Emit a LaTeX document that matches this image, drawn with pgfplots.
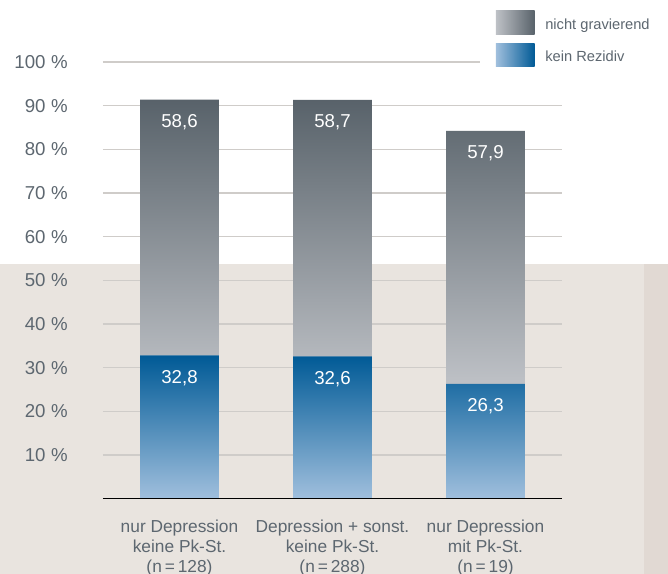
\documentclass[border=0pt]{standalone}
\usepackage{pgfplots}
\pgfplotsset{compat=1.18}
\usepackage{fontspec}
\setmainfont{Liberation Sans}

\definecolor{txt}{HTML}{5D6770}
\definecolor{gridc}{HTML}{CFCCC9}
\definecolor{baseline}{HTML}{5F666D}
\definecolor{greytop}{HTML}{58626A}
\definecolor{greybot}{HTML}{BEC1C6}
\definecolor{bluetop}{HTML}{005A96}
\definecolor{bluebot}{HTML}{A0BFDD}
\definecolor{beige}{HTML}{E9E4DF}
\definecolor{beigedark}{HTML}{E1D9D3}

\begin{document}
\begin{tikzpicture}
% page background: white top, beige lower band, darker strip at the right
\fill[white] (0,0) rectangle (501pt,430.5pt);
\fill[beige] (0,0) rectangle (483pt,232.5pt);
\fill[beigedark] (483pt,0) rectangle (501pt,232.5pt);
\useasboundingbox (0,0) rectangle (501pt,430.5pt);
\begin{axis}[
  at={(77.25pt,56.5pt)}, anchor=south west,
  scale only axis, width=344.25pt, height=327.5pt,
  xmin=-0.5, xmax=2.5, ymin=0, ymax=100,
  ybar stacked, bar width=0.516,
  axis line style={draw=none},
  tick style={draw=none},
  /pgf/number format/assume math mode=true,
  ytick={10,20,...,90},
  ymajorgrids, grid style={color=gridc, line width=0.9pt},
  % the 100 % line stops short of the legend, drawn below
  extra y ticks={100}, extra y tick style={grid=none},
  yticklabel={\pgfmathprintnumber{\tick}\hspace{0.3em}\%},
  yticklabel style={font=\fontsize{14}{16}\selectfont, text=txt, inner sep=0pt, anchor=east, xshift=-26.25pt},
  xtick={0,1,2},
  xticklabels={{nur Depression\\keine Pk-St.\\(n\,=\,128)},
               {Depression + sonst.\\keine Pk-St.\\(n\,=\,288)},
               {nur Depression\\mit Pk-St.\\(n\,=\,19)}},
  xticklabel style={align=center, font=\fontsize{13}{15}\selectfont, text=txt, anchor=north, inner sep=0pt, yshift=-15.5pt},
  point meta=explicit,
  % value label sits near the top of its own segment (segment middle + half its height)
  visualization depends on={rawy \as \segval},
  nodes near coords={\pgfmathprintnumber[fixed,fixed zerofill,precision=1,use comma]{\pgfplotspointmeta}},
  every node near coord/.append style={anchor=north, text=white, font=\fontsize{14}{16}\selectfont,
    yshift={\segval*1.6375pt-7.5pt}},
  legend style={at={(0.8562,1.1168)}, anchor=north west, draw=none, fill=none,
    font=\fontsize{11}{13}\selectfont, text=txt, inner sep=0pt, outer sep=0pt,
    nodes={inner sep=0pt}, row sep=6.75pt,
    /tikz/every odd column/.append style={column sep=8pt}},
  legend cell align=left,
  reverse legend,
]
\draw[gridc, line width=0.9pt] (axis cs:-0.5,100) -- (axis cs:1.964,100);
\draw[baseline, line width=1.1pt] (axis cs:-0.5,0) -- (axis cs:2.5,0);
\addplot[draw=none, top color=bluetop, bottom color=bluebot,
  legend image code/.code={\shade[left color=bluebot, right color=bluetop] (0pt,-7pt) rectangle (29pt,10.5pt);}]
  coordinates {(0,32.8) [32.8] (1,32.6) [32.6] (2,26.3) [26.3]};
\addlegendentry{kein Rezidiv}
\addplot[draw=none, top color=greytop, bottom color=greybot,
  legend image code/.code={\shade[left color=greybot, right color=greytop] (0pt,-7pt) rectangle (29pt,10.5pt);}]
  coordinates {(0,58.6) [58.6] (1,58.7) [58.7] (2,57.9) [57.9]};
\addlegendentry{nicht gravierend}
\end{axis}
\end{tikzpicture}
\end{document}
